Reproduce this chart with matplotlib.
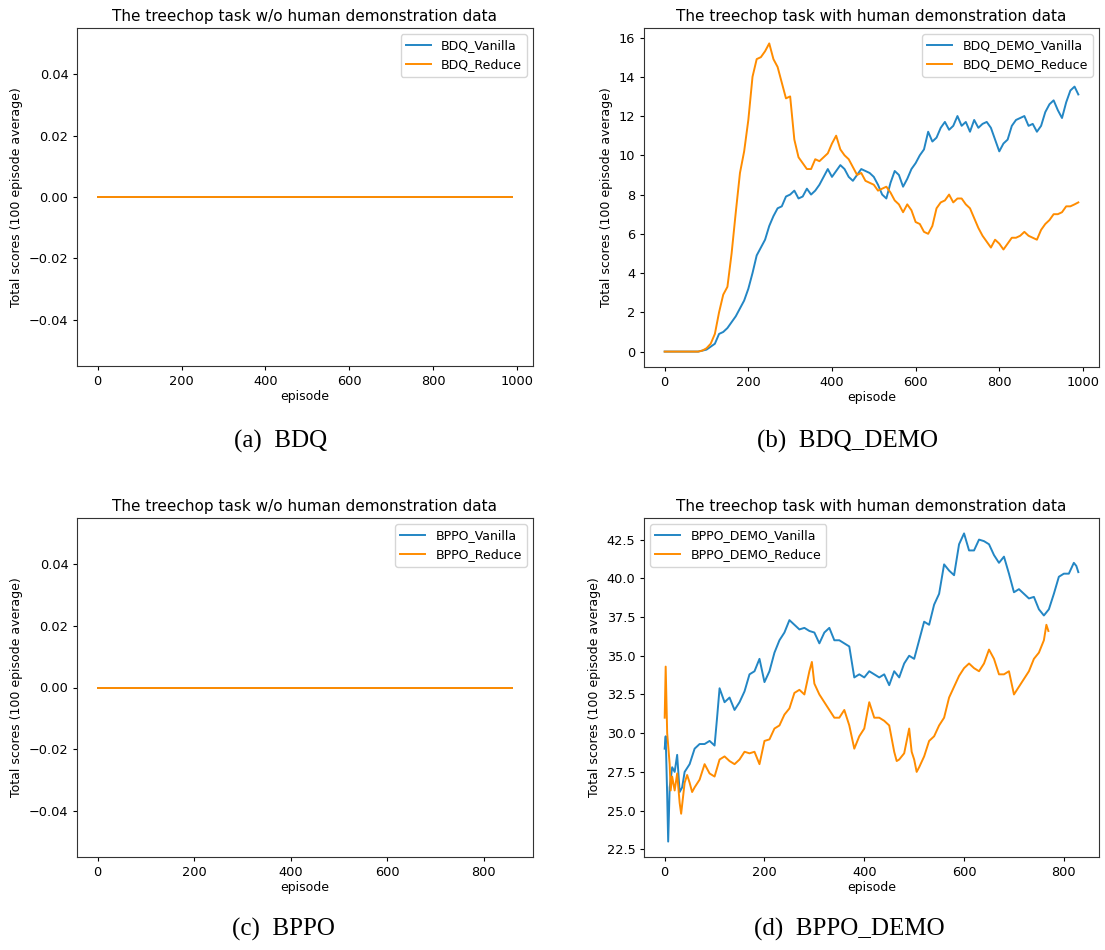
import numpy as np
import matplotlib
matplotlib.use("Agg")
import matplotlib.pyplot as plt

# ---- data ----
# (a) BDQ / (c) BPPO: flat zero score, both series identical
bdq_ep = [0, 989]
bdq_vanilla = [0.0, 0.0]
bdq_reduce = [0.0, 0.0]

bppo_ep = [0, 859]
bppo_vanilla = [0.0, 0.0]
bppo_reduce = [0.0, 0.0]

# (b) BDQ_DEMO, sampled every 10 episodes
bdq_demo_ep = list(range(0, 990, 10)) + [989]
bdq_demo_vanilla = [
    0, 0, 0, 0, 0, 0, 0, 0, 0, 0.05,
    0.1, 0.25, 0.4, 0.9, 1.0, 1.2, 1.5, 1.8, 2.2, 2.6,
    3.2, 4.0, 4.9, 5.3, 5.7, 6.4, 6.9, 7.3, 7.4, 7.9,
    8.0, 8.2, 7.8, 7.9, 8.3, 8.0, 8.2, 8.5, 8.9, 9.3,
    8.9, 9.2, 9.5, 9.3, 8.9, 8.7, 9.0, 9.3, 9.2, 9.1,
    8.9, 8.5, 8.0, 7.8, 8.6, 9.2, 9.0, 8.4, 8.8, 9.3,
    9.6, 10.0, 10.3, 11.2, 10.7, 10.9, 11.4, 11.7, 11.3, 11.5,
    12.0, 11.5, 11.7, 11.2, 11.8, 11.4, 11.6, 11.7, 11.4, 10.8,
    10.2, 10.6, 10.8, 11.5, 11.8, 11.9, 12.0, 11.5, 11.6, 11.2,
    11.5, 12.2, 12.6, 12.8, 12.3, 11.9, 12.7, 13.3, 13.5, 13.1,
]
bdq_demo_reduce = [
    0, 0, 0, 0, 0, 0, 0, 0, 0, 0.05,
    0.17, 0.4, 0.9, 2.0, 2.9, 3.3, 5.0, 7.1, 9.1, 10.2,
    11.8, 14.0, 14.9, 15.0, 15.3, 15.7, 14.9, 14.5, 13.7, 12.9,
    13.0, 10.8, 9.9, 9.6, 9.3, 9.3, 9.8, 9.7, 9.9, 10.1,
    10.6, 11.0, 10.3, 10.0, 9.8, 9.4, 9.0, 9.1, 8.7, 8.6,
    8.5, 8.2, 8.3, 8.4, 8.1, 7.7, 7.5, 7.1, 7.5, 7.2,
    6.6, 6.5, 6.1, 6.0, 6.4, 7.3, 7.6, 7.7, 8.0, 7.6,
    7.8, 7.8, 7.5, 7.3, 6.8, 6.3, 5.9, 5.6, 5.3, 5.7,
    5.5, 5.2, 5.5, 5.8, 5.8, 5.9, 6.1, 5.9, 5.8, 5.7,
    6.2, 6.5, 6.7, 7.0, 7.0, 7.1, 7.4, 7.4, 7.5, 7.6,
]

# (d) BPPO_DEMO
bppo_demo_ep_v = [0, 2, 5, 7, 10, 15, 20, 25, 30, 35, 40, 50, 60, 70, 80, 90,
                  100, 105, 110, 120, 130, 140, 150, 160, 170, 180, 190,
                  200, 210, 220, 230, 240, 250, 260, 270, 280, 290,
                  300, 310, 320, 330, 340, 350, 360, 370, 380, 390,
                  400, 410, 420, 430, 440, 450, 460, 470, 480, 490,
                  500, 510, 520, 530, 540, 550, 560, 570, 580, 590,
                  600, 610, 620, 630, 640, 650, 660, 670, 680, 690,
                  700, 710, 720, 730, 740, 750, 760, 770, 780, 790,
                  800, 810, 820, 825, 829]
bppo_demo_vanilla = [29.0, 29.8, 26.0, 23.0, 26.5, 27.8, 27.5, 28.6, 26.2, 26.5,
                     27.5, 28.0, 29.0, 29.3, 29.3, 29.5,
                     29.2, 31.0, 32.9, 32.0, 32.3, 31.5, 32.0, 32.7, 33.8, 34.0, 34.8,
                     33.3, 34.0, 35.2, 36.0, 36.5, 37.3, 37.0, 36.7, 36.8, 36.6,
                     36.5, 35.8, 36.5, 36.8, 36.0, 36.0, 35.8, 35.6, 33.6, 33.8,
                     33.6, 34.0, 33.8, 33.6, 33.8, 33.1, 34.0, 33.6, 34.5, 35.0,
                     34.8, 36.0, 37.2, 37.0, 38.3, 39.0, 40.9, 40.5, 40.2, 42.2,
                     42.9, 41.8, 41.8, 42.5, 42.4, 42.2, 41.5, 41.0, 41.4, 40.3,
                     39.1, 39.3, 39.0, 38.7, 38.8, 38.0, 37.6, 38.0, 39.0, 40.1,
                     40.3, 40.3, 41.0, 40.8, 40.4]

bppo_demo_ep_r = [0, 2, 5, 8, 10, 12, 15, 20, 25, 30, 33, 40, 45, 50, 55, 60,
                  70, 80, 90, 100, 110, 120, 130, 140, 150, 160, 170, 180, 190,
                  200, 210, 220, 230, 240, 250, 260, 270, 280, 290, 295,
                  300, 310, 320, 330, 340, 350, 360, 370, 380, 390,
                  400, 410, 420, 430, 440, 450, 460, 465, 470, 480, 490, 495,
                  500, 505, 510, 520, 530, 540, 550, 560, 570, 580, 590,
                  600, 610, 620, 630, 640, 650, 660, 670, 680, 690,
                  700, 710, 720, 730, 740, 750, 760, 765, 769]
bppo_demo_reduce = [31.0, 34.3, 30.0, 28.8, 28.0, 26.3, 27.2, 26.3, 27.4, 25.5,
                    24.8, 26.8, 27.3, 26.8, 26.2, 26.5,
                    27.0, 28.0, 27.4, 27.2, 28.3, 28.5, 28.2, 28.0, 28.3, 28.8, 28.7, 28.8, 28.0,
                    29.5, 29.6, 30.3, 30.5, 31.2, 31.6, 32.6, 32.8, 32.5, 34.0, 34.6,
                    33.2, 32.5, 32.0, 31.5, 31.0, 31.0, 31.5, 30.5, 29.0, 29.8,
                    30.3, 32.0, 31.0, 31.0, 30.8, 30.5, 28.8, 28.2, 28.3, 28.7, 30.3, 28.8,
                    28.3, 27.5, 27.8, 28.5, 29.5, 29.8, 30.5, 31.0, 32.3, 33.0, 33.7,
                    34.2, 34.5, 34.2, 34.0, 34.5, 35.4, 34.8, 33.8, 33.8, 34.0,
                    32.5, 33.0, 33.5, 34.0, 34.8, 35.2, 36.0, 37.0, 36.6]

BLUE = '#2386c4'
ORANGE = '#ff8c00'

W, H = 1105, 950
plt.rcParams['font.family'] = 'DejaVu Sans'
plt.rcParams['font.size'] = 9
plt.rcParams['axes.titlesize'] = 11
plt.rcParams['xtick.major.size'] = 3.2
plt.rcParams['ytick.major.size'] = 3.2
plt.rcParams['axes.linewidth'] = 0.8
plt.rcParams['axes.edgecolor'] = '#333333'

fig = plt.figure(figsize=(W / 100, H / 100), dpi=100)


def px_axes(l, t, r, b):
    # pixel box -> figure axes
    return fig.add_axes([l / W, 1 - b / H, (r - l) / W, (b - t) / H])


def panel(ax, title, x1, y1, lab1, x2, y2, lab2, loc):
    ax.plot(x1, y1, color=BLUE, lw=1.4, label=lab1)
    ax.plot(x2, y2, color=ORANGE, lw=1.4, label=lab2)
    ax.set_title(title, fontsize=11, pad=5)
    ax.set_xlabel('episode', fontsize=9, labelpad=2)
    ax.set_ylabel('Total scores (100 episode average)', fontsize=9)
    ax.tick_params(labelsize=9.3, pad=3)
    ax.legend(loc=loc, fontsize=9)


title_wo = 'The treechop task w/o human demonstration data'
title_w = 'The treechop task with human demonstration data'

ax_a = px_axes(77, 28, 533, 366)
panel(ax_a, title_wo, bdq_ep, bdq_vanilla, 'BDQ_Vanilla',
      bdq_ep, bdq_reduce, 'BDQ_Reduce', 'upper right')

ax_b = px_axes(644, 28, 1099, 367)
panel(ax_b, title_w, bdq_demo_ep, bdq_demo_vanilla, 'BDQ_DEMO_Vanilla',
      bdq_demo_ep, bdq_demo_reduce, 'BDQ_DEMO_Reduce', 'upper right')

ax_c = px_axes(77, 518, 533, 857)
panel(ax_c, title_wo, bppo_ep, bppo_vanilla, 'BPPO_Vanilla',
      bppo_ep, bppo_reduce, 'BPPO_Reduce', 'upper right')

ax_d = px_axes(644, 518, 1099, 857)
panel(ax_d, title_w, bppo_demo_ep_v, bppo_demo_vanilla, 'BPPO_DEMO_Vanilla',
      bppo_demo_ep_r, bppo_demo_reduce, 'BPPO_DEMO_Reduce', 'upper left')
ax_d.set_yticks([22.5, 25.0, 27.5, 30.0, 32.5, 35.0, 37.5, 40.0, 42.5])

# sub-captions, LaTeX style
cap_font = dict(family='Liberation Serif', fontsize=18, ha='center', va='center')
fig.text(281 / W, 1 - 441 / H, '(a)  BDQ', **cap_font)
fig.text(847 / W, 1 - 441 / H, '(b)  BDQ_DEMO', **cap_font)
fig.text(283 / W, 1 - 929 / H, '(c)  BPPO', **cap_font)
fig.text(849 / W, 1 - 929 / H, '(d)  BPPO_DEMO', **cap_font)

fig.savefig('out.png', dpi=100)
